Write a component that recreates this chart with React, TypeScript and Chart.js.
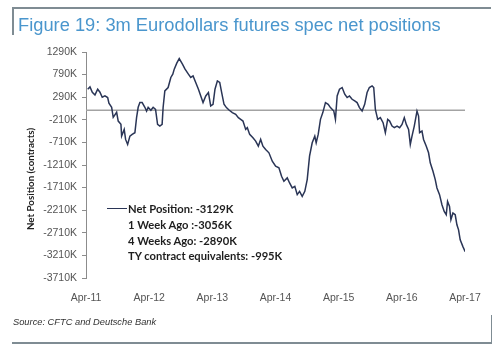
import React, { useEffect, useRef } from "react";
import { Chart, registerables } from "chart.js";

Chart.register(...registerables);

// Dates as decimal years (Apr-11 = 2011.25)
const dates = [
  2011.277, 2011.313, 2011.35, 2011.392, 2011.435, 2011.471, 2011.507, 2011.55, 2011.593, 2011.613,
  2011.656, 2011.681, 2011.735, 2011.76, 2011.803, 2011.814, 2011.855, 2011.877, 2011.909, 2011.945,
  2011.981, 2012.024, 2012.051, 2012.076, 2012.103, 2012.139, 2012.182, 2012.209, 2012.234, 2012.277,
  2012.313, 2012.351, 2012.383, 2012.419, 2012.455, 2012.471, 2012.498, 2012.55, 2012.593, 2012.624,
  2012.647, 2012.687, 2012.726, 2012.777, 2012.818, 2012.871, 2012.908, 2012.945, 2012.987, 2013.03,
  2013.067, 2013.103, 2013.146, 2013.188, 2013.224, 2013.261, 2013.292, 2013.33, 2013.367, 2013.398,
  2013.435, 2013.473, 2013.514, 2013.567, 2013.62, 2013.662, 2013.699, 2013.735, 2013.778, 2013.804,
  2013.841, 2013.893, 2013.936, 2013.978, 2014.015, 2014.051, 2014.094, 2014.146, 2014.199, 2014.252,
  2014.304, 2014.346, 2014.383, 2014.436, 2014.473, 2014.515, 2014.556, 2014.594, 2014.631, 2014.673,
  2014.714, 2014.752, 2014.789, 2014.831, 2014.872, 2014.894, 2014.926, 2014.962, 2014.999, 2015.041,
  2015.084, 2015.12, 2015.173, 2015.199, 2015.226, 2015.263, 2015.305, 2015.346, 2015.384, 2015.421,
  2015.463, 2015.504, 2015.542, 2015.579, 2015.621, 2015.662, 2015.7, 2015.736, 2015.779, 2015.805,
  2015.831, 2015.868, 2015.91, 2015.953, 2015.989, 2016.026, 2016.057, 2016.095, 2016.131, 2016.174,
  2016.215, 2016.253, 2016.289, 2016.321, 2016.357, 2016.384, 2016.411, 2016.447, 2016.49, 2016.515,
  2016.531, 2016.569, 2016.594, 2016.637, 2016.673, 2016.7, 2016.743, 2016.779, 2016.806, 2016.847,
  2016.885, 2016.921, 2016.953, 2016.974, 2017.005, 2017.027, 2017.059, 2017.095, 2017.122, 2017.148,
  2017.174, 2017.217, 2017.253,
];

// Net speculative position, thousands of contracts
const netPositions = [
  467, 518, 400, 340, 467, 400, 289, 318, 282, 156,
  67, -156, -44, -238, -311, -571, -422, -644, -755, -571,
  -533, -496, -156, 67, 171, 171, 67, -16, 67, 0,
  67, 22, -311, -349, -311, 67, 429, 504, 727, 800,
  911, 1044, 1144, 1022, 911, 800, 727, 762, 616, 467,
  318, 171, 318, 393, 96, 133, 467, 651, 616, 393,
  133, 60, 7, -51, -89, -162, -200, -238, -422, -384,
  -533, -607, -682, -793, -644, -793, -867, -940, -1127, -1238,
  -1273, -1460, -1571, -1495, -1607, -1718, -1682, -1866, -1793, -1904,
  -1793, -1533, -1015, -718, -571, -718, -533, -200, -51, 171,
  133, 60, -16, -200, 318, 467, 504, 356, 282, 318,
  244, 207, 171, 60, -16, 133, 393, 504, 540, 504,
  22, -200, -162, -273, -496, -200, -238, -349, -384, -349,
  -384, -311, -162, -311, -422, -755, -571, -349, -16, -127,
  -496, -460, -644, -793, -940, -1162, -1349, -1533, -1718, -1866,
  -2089, -2238, -2311, -2015, -2126, -2422, -2273, -2311, -2533, -2644,
  -2866, -3015, -3129,
];

const xTickPositions = [2011.25, 2012.25, 2013.25, 2014.25, 2015.25, 2016.25, 2017.25];
const xTickLabels = ["Apr-11", "Apr-12", "Apr-13", "Apr-14", "Apr-15", "Apr-16", "Apr-17"];
const yTicks = [1290, 790, 290, -210, -710, -1210, -1710, -2210, -2710, -3210, -3710];

const legendLines = [
  "Net Position: -3129K",
  "1 Week Ago :-3056K",
  "4 Weeks Ago: -2890K",
  "TY contract equivalents: -995K",
];

const titleText = "Figure 19: 3m Eurodollars futures spec net positions";
const sourceText = "Source: CFTC and Deutsche Bank";
const yTitle = "Net Position (contracts)";

const LINE_COLOR = "#2a3556";
const W = 504;
const H = 353;

export default function App() {
  const ref = useRef<HTMLCanvasElement | null>(null);

  useEffect(() => {
    const canvas = ref.current;
    if (!canvas) return;
    const chart = new Chart(canvas, {
      type: "line",
      data: {
        datasets: [
          {
            data: dates.map((d, i) => ({ x: d, y: netPositions[i] })),
            borderColor: LINE_COLOR,
            borderWidth: 1.5,
            pointRadius: 0,
            tension: 0,
            fill: false,
            order: 1,
          },
          {
            data: [
              { x: xTickPositions[0], y: 0 },
              { x: xTickPositions[xTickPositions.length - 1], y: 0 },
            ],
            borderColor: "#a3a3a3",
            borderWidth: 1.6,
            pointRadius: 0,
            fill: false,
            order: 2,
          },
        ],
      },
      options: {
        animation: false,
        responsive: false,
        maintainAspectRatio: false,
        layout: { padding: { left: 0, top: 52, right: 39, bottom: 0 } },
        plugins: {
          legend: { display: false },
          tooltip: { enabled: false },
          title: { display: false },
        },
        scales: {
          x: {
            type: "linear",
            min: xTickPositions[0],
            max: xTickPositions[xTickPositions.length - 1],
            grid: { display: false },
            border: { display: false },
            afterBuildTicks: (s: any) => {
              s.ticks = xTickPositions.map((v) => ({ value: v }));
            },
            afterFit: (s: any) => {
              s.height = H - 278;
            },
            ticks: {
              autoSkip: false,
              maxRotation: 0,
              padding: 6,
              color: "#555",
              font: { family: "Liberation Sans", size: 10.5 },
              callback: (v: any) => {
                const idx = xTickPositions.findIndex((p) => Math.abs(p - Number(v)) < 0.001);
                return idx >= 0 ? xTickLabels[idx] : "";
              },
            },
          },
          y: {
            type: "linear",
            min: yTicks[yTicks.length - 1],
            max: yTicks[0],
            grid: {
              display: true,
              drawOnChartArea: false,
              drawTicks: true,
              tickLength: 4,
              color: "#8c8c8c",
            },
            border: { display: true, color: "#8c8c8c", width: 1 },
            afterBuildTicks: (s: any) => {
              s.ticks = yTicks.map((v) => ({ value: v }));
            },
            afterFit: (s: any) => {
              s.width = 86;
            },
            ticks: {
              autoSkip: false,
              padding: 5,
              color: "#555",
              font: { family: "Liberation Sans", size: 10.5 },
              callback: (v: any) => `${v}K`,
            },
          },
        },
      },
    });
    return () => chart.destroy();
  }, []);

  const lineGray = "#7f8c93";

  return (
    <div style={{ position: "absolute", left: 0, top: 0, width: W, height: H, background: "#fff", overflow: "hidden" }}>
      <canvas ref={ref} width={W} height={H} style={{ position: "absolute", left: 0, top: 0, width: W, height: H }} />
      {/* header frame */}
      <div style={{ position: "absolute", left: 12, top: 7, width: 479, height: 1.5, background: lineGray }} />
      <div style={{ position: "absolute", left: 12, top: 7, width: 1.5, height: 28, background: lineGray }} />
      <div
        style={{
          position: "absolute",
          left: 18,
          top: 14,
          fontFamily: "Liberation Sans",
          fontSize: 18.3,
          lineHeight: "22px",
          color: "#4a96cd",
          whiteSpace: "nowrap",
        }}
      >
        {titleText}
      </div>
      {/* y axis title */}
      <div
        style={{
          position: "absolute",
          left: 30,
          top: 179,
          transform: "translate(-50%, -50%) rotate(-90deg)",
          fontFamily: "Lato",
          fontWeight: 700,
          fontSize: 9.8,
          color: "#222",
          whiteSpace: "nowrap",
        }}
      >
        {yTitle}
      </div>
      {/* annotation legend */}
      <div style={{ position: "absolute", left: 107, top: 208.3, width: 20, height: 0, borderTop: `1.5px solid ${LINE_COLOR}` }} />
      {legendLines.map((t, i) => (
        <div
          key={i}
          style={{
            position: "absolute",
            left: 128,
            top: [209, 225, 241, 256][i] - 7,
            fontFamily: "Lato",
            fontWeight: 700,
            fontSize: 11.2,
            lineHeight: "14px",
            color: "#1e1e1e",
            whiteSpace: "nowrap",
          }}
        >
          {t}
        </div>
      ))}
      {/* footer */}
      <div
        style={{
          position: "absolute",
          left: 13,
          top: 316,
          fontFamily: "Liberation Sans",
          fontStyle: "italic",
          fontSize: 9.3,
          lineHeight: "12px",
          color: "#333",
          whiteSpace: "nowrap",
        }}
      >
        {sourceText}
      </div>
      <div style={{ position: "absolute", left: 12, top: 342, width: 480, height: 1.5, background: lineGray }} />
      <div style={{ position: "absolute", left: 490.5, top: 315, width: 1.5, height: 28.5, background: lineGray }} />
    </div>
  );
}
